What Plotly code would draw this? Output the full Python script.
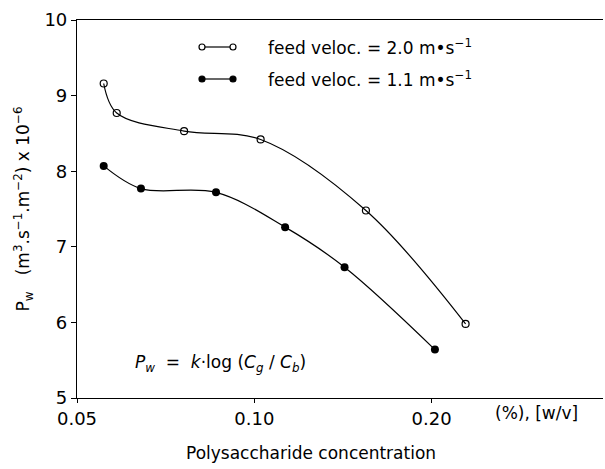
import plotly.graph_objects as go

# data
x_fast = [0.0555, 0.0584, 0.0760, 0.1025, 0.1547, 0.2284]
y_fast = [9.16, 8.77, 8.53, 8.42, 7.48, 5.98]
x_slow = [0.0555, 0.0642, 0.0861, 0.1128, 0.1423, 0.2026]
y_slow = [8.07, 7.77, 7.72, 7.26, 6.73, 5.64]
x_ticks = [0.05, 0.10, 0.20]
x_ticklabels = ["0.05", "0.10", "0.20"]
y_ticks = [5, 6, 7, 8, 9, 10]
legend_labels = ["feed veloc. = 2.0 m\u2022s<sup>\u22121</sup>",
                 "feed veloc. = 1.1 m\u2022s<sup>\u22121</sup>"]

FONT = "DejaVu Sans"
fig = go.Figure()
fig.add_trace(go.Scatter(x=x_fast, y=y_fast, mode="lines+markers",
                         line=dict(color="black", width=1.2, shape="spline", smoothing=1.0),
                         marker=dict(symbol="circle-open", size=7, color="black", line=dict(width=1.2)),
                         showlegend=False))
fig.add_trace(go.Scatter(x=x_slow, y=y_slow, mode="lines+markers",
                         line=dict(color="black", width=1.2, shape="spline", smoothing=1.0),
                         marker=dict(symbol="circle", size=8, color="black"),
                         showlegend=False))

L, T, R, B = 77, 20, 2, 71
W, H = 605, 469
pw, ph = W - L - R, H - T - B

def px(xp):
    return (xp - L) / pw

def py(yp):
    return (H - B - yp) / ph

shapes = []
annotations = []
rows = [(47, False), (79, True)]
for (yy, filled), lab in zip(rows, legend_labels):
    shapes.append(dict(type="line", xref="paper", yref="paper",
                       x0=px(205), x1=px(230), y0=py(yy), y1=py(yy),
                       line=dict(color="black", width=1.2)))
    for cx in (202, 233):
        shapes.append(dict(type="circle", xref="paper", yref="paper",
                           xsizemode="pixel", ysizemode="pixel",
                           xanchor=px(cx), yanchor=py(yy),
                           x0=-3, x1=3, y0=-3, y1=3,
                           line=dict(color="black", width=1.2),
                           fillcolor="black" if filled else "white"))
    annotations.append(dict(xref="paper", yref="paper", x=px(266), y=py(yy),
                            xanchor="left", yanchor="middle", showarrow=False,
                            text=lab, font=dict(family=FONT, size=17, color="black")))

annotations.append(dict(xref="paper", yref="paper", x=px(133), y=py(363),
                        xanchor="left", yanchor="middle", showarrow=False,
                        text="<i>P<sub>w</sub></i>  =  <i>k</i>\u00b7log (<i>C<sub>g</sub></i> / <i>C<sub>b</sub></i>)",
                        font=dict(family=FONT, size=17, color="black")))
annotations.append(dict(xref="paper", yref="paper", x=px(493), y=py(413),
                        xanchor="left", yanchor="middle", showarrow=False,
                        text="(%), [w/v]", font=dict(family=FONT, size=17, color="black")))
annotations.append(dict(xref="paper", yref="paper", x=px(311), y=py(453),
                        xanchor="center", yanchor="middle", showarrow=False,
                        text="Polysaccharide concentration", font=dict(family=FONT, size=17, color="black")))

fig.update_layout(
    width=W, height=H, margin=dict(l=L, r=R, t=T, b=B),
    paper_bgcolor="white", plot_bgcolor="white",
    font=dict(family=FONT, color="black"),
    shapes=shapes, annotations=annotations,
    xaxis=dict(type="log", range=[-1.30103, -0.408], tickvals=x_ticks, ticktext=x_ticklabels,
               showgrid=False, zeroline=False, showline=True, linecolor="black", linewidth=1.2,
               mirror=True, ticks="outside", ticklen=4, tickcolor="black",
               tickfont=dict(family=FONT, size=18)),
    yaxis=dict(range=[5, 10], tickvals=y_ticks, showgrid=False, zeroline=False,
               showline=True, linecolor="black", linewidth=1.2, ticks="outside", ticklen=5,
               tickcolor="black", tickfont=dict(family=FONT, size=18),
               title=dict(text="P<sub>w</sub>   (m<sup>3</sup>.s<sup>\u22121</sup>.m<sup>\u22122</sup>) x 10<sup>\u22126</sup>",
                          font=dict(family=FONT, size=17), standoff=10)),
)
fig.write_html("out.html")
